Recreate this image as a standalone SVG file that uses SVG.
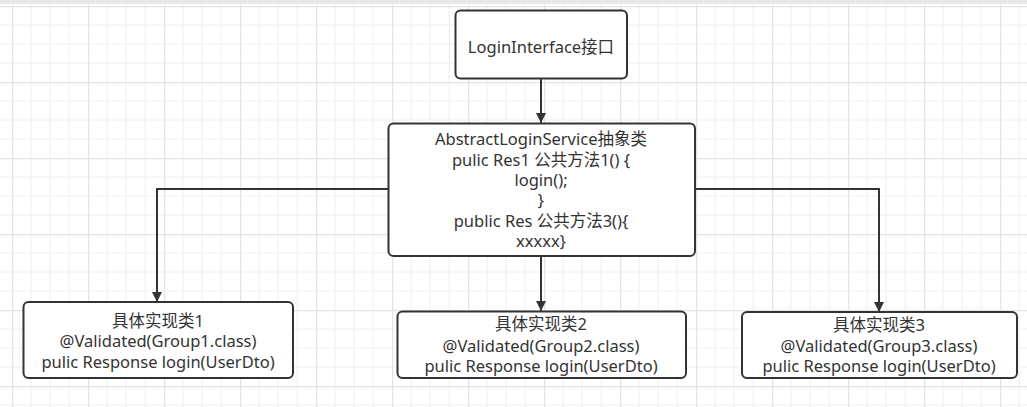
<svg xmlns="http://www.w3.org/2000/svg" width="1027" height="407" viewBox="0 0 1027 407">
<defs>
<pattern id="g" x="12" y="6" width="76" height="76" patternUnits="userSpaceOnUse">
<path d="M0 0V76M19 0V76M38 0V76M57 0V76M0 0H76M0 19H76M0 38H76M0 57H76" stroke="#eeeeee" stroke-width="1" fill="none"/>
<path d="M0.5 0V76M0 0.5H76" stroke="#e4e4e4" stroke-width="1.5" fill="none"/>
</pattern>
<marker id="a" viewBox="0 0 10 10" refX="10" refY="5" markerWidth="10" markerHeight="10" markerUnits="userSpaceOnUse" orient="auto">
<path d="M0 0L10 5L0 10Z" fill="#333"/>
</marker>
<style>
.n{fill:#fff;stroke:#333;stroke-width:2}
.t{font-family:"Noto Sans","Noto Sans CJK SC",sans-serif;font-size:16.5px;fill:#333;text-anchor:middle}
.c{fill:none;stroke:#333;stroke-width:2;marker-end:url(#a)}
</style>
</defs>
<rect width="1027" height="407" fill="#fff"/>
<rect width="1027" height="407" fill="url(#g)"/>
<rect width="1027" height="4" fill="#e8e8e8"/>
<g id="connectors">
<path class="c" d="M541 79V123"/>
<path class="c" d="M541 256V311"/>
<path class="c" d="M388 189H157V302"/>
<path class="c" d="M695 189H879V312"/>
</g>
<g id="n1">
<rect class="n" x="455.5" y="10.5" width="171.5" height="68" rx="5"/>
<text class="t" x="541" y="52.5">LoginInterface接口</text>
</g>
<g id="n2">
<rect class="n" x="388.5" y="123.5" width="306.5" height="132.5" rx="5"/>
<text class="t" x="541" y="145">AbstractLoginService抽象类</text>
<text class="t" x="541" y="166">pulic Res1 公共方法1() {</text>
<text class="t" x="541" y="186">login();</text>
<text class="t" x="541" y="206">}</text>
<text class="t" x="541" y="227">public Res 公共方法3(){</text>
<text class="t" x="541" y="247">xxxxx}</text>
</g>
<g id="n3">
<rect class="n" x="23.5" y="302" width="269.5" height="76" rx="5"/>
<text class="t" x="158" y="327">具体实现类1</text>
<text class="t" x="158" y="347">@Validated(Group1.class)</text>
<text class="t" x="158" y="368">pulic Response login(UserDto)</text>
</g>
<g id="n4">
<rect class="n" x="397.5" y="311.5" width="288.5" height="66.5" rx="5"/>
<text class="t" x="541" y="330">具体实现类2</text>
<text class="t" x="541" y="352">@Validated(Group2.class)</text>
<text class="t" x="541" y="372">pulic Response login(UserDto)</text>
</g>
<g id="n5">
<rect class="n" x="742" y="312" width="275" height="66" rx="5"/>
<text class="t" x="879" y="331">具体实现类3</text>
<text class="t" x="879" y="352">@Validated(Group3.class)</text>
<text class="t" x="879" y="372">pulic Response login(UserDto)</text>
</g>
</svg>
